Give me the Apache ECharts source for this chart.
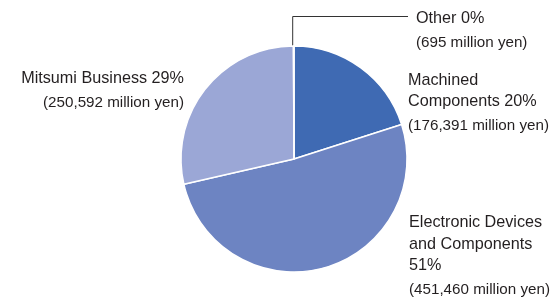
<!DOCTYPE html>
<html><head><meta charset="utf-8">
<script src="https://cdn.jsdelivr.net/npm/echarts@6/dist/echarts.min.js"></script>
<style>html,body{margin:0;padding:0;background:#fff}#c{width:550px;height:297px}</style>
</head><body><div id="c"></div>
<script>
const categories = ['Machined Components', 'Electronic Devices and Components', 'Mitsumi Business', 'Other'];
const labelTitles = ['Machined\nComponents 20%', 'Electronic Devices\nand Components\n51%', 'Mitsumi Business 29%', 'Other 0%'];
const values = [176391, 451460, 250592, 695];
const colors = ['#3f6ab3', '#6d84c2', '#9ba7d6', '#b0b8dc'];

const CX = 294, CY = 159, R = 113;
const labelPos = [
  { x: 408, y: 69.5, align: 'left', verticalAlign: 'top' },
  { x: 409, y: 212, align: 'left', verticalAlign: 'top' },
  { x: 184, y: 67.5, align: 'right', verticalAlign: 'top' },
  { x: 416, y: 7.5, align: 'left', verticalAlign: 'top' }
];

const chart = echarts.init(document.getElementById('c'), null, { renderer: 'canvas' });
chart.setOption({
  animation: false,
  backgroundColor: '#fff',
  series: [{
    type: 'pie',
    center: [CX, CY],
    radius: [0, R],
    startAngle: 90,
    clockwise: true,
    avoidLabelOverlap: false,
    itemStyle: { borderColor: '#fff', borderWidth: 1.5 },
    label: {
      show: true,
      position: 'outside',
      color: '#231f20',
      fontFamily: 'Liberation Sans, Arial, sans-serif',
      formatter: (p) => '{a|' + labelTitles[p.dataIndex] + '}\n{b|(' + p.value.toLocaleString('en-US') + ' million yen)}',
      rich: {
        a: { fontSize: 16.2, lineHeight: 21.5, color: '#231f20', fontFamily: 'Liberation Sans, Arial, sans-serif' },
        b: { fontSize: 15.2, lineHeight: 27.5, color: '#231f20', fontFamily: 'Liberation Sans, Arial, sans-serif' }
      }
    },
    labelLine: { show: false },
    labelLayout: (params) => {
      const i = params.dataIndex;
      const o = Object.assign({}, labelPos[i]);
      if (i === 3) {
        const lineY = o.y + 9;
        o.labelLinePoints = [[CX - 1.3, CY - R + 8], [CX - 1.3, lineY], [o.x - 8, lineY]];
      }
      return o;
    },
    data: categories.map((c, i) => ({
      name: c,
      value: values[i],
      itemStyle: { color: colors[i] },
      labelLine: i === 3 ? { show: true, lineStyle: { color: '#333', width: 1 } } : { show: false }
    }))
  }]
});
</script></body></html>
